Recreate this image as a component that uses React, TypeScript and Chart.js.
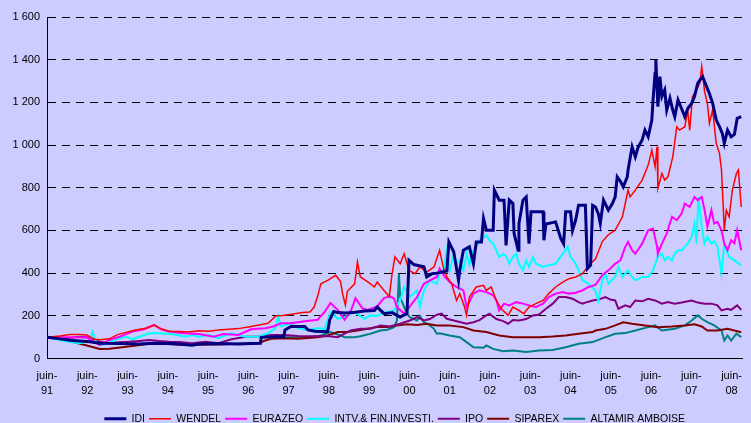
import React, { useEffect, useRef } from "react";
import { Chart, registerables } from "chart.js";

Chart.register(...registerables);

const SERIES_NAMES = ["IDI", "WENDEL", "EURAZEO", "INTV.& FIN.INVESTI.", "IPO", "SIPAREX", "ALTAMIR AMBOISE"];
const SERIES_COLORS = ["#000080", "#FF0000", "#FF00FF", "#00FFFF", "#800080", "#800000", "#008080"];
const SERIES_WIDTHS = [3, 1.5, 2, 2, 2, 2, 2];

const TICK_YEARS = ["91", "92", "93", "94", "95", "96", "97", "98", "99", "00", "01", "02", "03", "04", "05", "06", "07", "08"];
const FIRST_JUNE = 1991.42;
const X_MIN = 1991.42;
const X_MAX = 2008.69;
const Y_TICKS_MAX = 1600;
const Y_STEP = 200;

const IDI: [number, number][] = [[1991.42,100],[1991.74,92],[1991.99,85],[1992.48,78],[1992.73,72],[1993.22,70],[1993.71,68],[1994.08,72],[1994.52,70],[1994.82,66],[1995.02,62],[1995.19,68],[1995.68,70],[1996.17,68],[1996.49,70],[1996.72,71],[1996.74,99],[1997.11,102],[1997.30,102],[1997.33,134],[1997.48,150],[1997.82,150],[1997.90,134],[1998.07,128],[1998.39,126],[1998.44,181],[1998.54,220],[1998.64,215],[1998.83,213],[1999.08,217],[1999.30,222],[1999.55,225],[1999.62,241],[1999.79,210],[1999.99,215],[2000.19,194],[2000.36,210],[2000.41,460],[2000.53,440],[2000.78,430],[2000.85,382],[2000.98,397],[2001.10,400],[2001.35,410],[2001.40,546],[2001.52,500],[2001.64,366],[2001.67,413],[2001.76,507],[2001.91,523],[2002.01,444],[2002.08,546],[2002.21,546],[2002.26,656],[2002.33,601],[2002.50,601],[2002.53,789],[2002.65,742],[2002.77,742],[2002.82,530],[2002.90,742],[2002.99,726],[2003.02,585],[2003.12,507],[2003.14,632],[2003.24,742],[2003.32,757],[2003.39,538],[2003.44,687],[2003.74,687],[2003.76,554],[2003.81,630],[2004.05,640],[2004.18,562],[2004.25,538],[2004.30,687],[2004.42,687],[2004.47,600],[2004.55,650],[2004.62,718],[2004.79,718],[2004.84,421],[2004.92,437],[2004.97,718],[2005.04,710],[2005.11,679],[2005.16,632],[2005.24,742],[2005.36,695],[2005.46,726],[2005.53,757],[2005.58,851],[2005.66,830],[2005.73,804],[2005.83,851],[2005.85,883],[2005.95,992],[2006.03,945],[2006.10,990],[2006.20,1024],[2006.27,1070],[2006.35,1039],[2006.44,1117],[2006.47,1211],[2006.52,1336],[2006.54,1399],[2006.59,1180],[2006.64,1321],[2006.69,1227],[2006.76,1258],[2006.81,1164],[2006.89,1220],[2006.96,1164],[2007.01,1133],[2007.09,1211],[2007.18,1170],[2007.26,1133],[2007.33,1170],[2007.43,1196],[2007.50,1227],[2007.58,1290],[2007.70,1321],[2007.80,1274],[2007.87,1242],[2007.95,1196],[2008.04,1117],[2008.12,1086],[2008.19,1055],[2008.24,1008],[2008.32,1070],[2008.41,1039],[2008.49,1050],[2008.56,1125],[2008.66,1133]];

const WENDEL: [number, number][] = [[1991.42,100],[1991.74,105],[1991.99,112],[1992.23,113],[1992.41,110],[1992.60,90],[1992.73,88],[1992.97,92],[1993.17,112],[1993.34,120],[1993.59,132],[1993.88,142],[1994.08,157],[1994.25,140],[1994.45,128],[1994.70,126],[1994.94,124],[1995.19,130],[1995.43,128],[1995.68,134],[1995.93,137],[1996.17,140],[1996.49,150],[1996.72,158],[1996.91,165],[1997.11,200],[1997.28,202],[1997.53,208],[1997.77,215],[1997.95,218],[1998.05,240],[1998.14,290],[1998.22,350],[1998.39,366],[1998.59,390],[1998.71,360],[1998.76,304],[1998.83,250],[1998.88,315],[1999.06,350],[1999.13,452],[1999.20,382],[1999.38,360],[1999.55,335],[1999.62,358],[1999.79,319],[1999.92,290],[1999.99,397],[2000.06,476],[2000.19,444],[2000.29,491],[2000.41,413],[2000.56,397],[2000.68,429],[2000.85,405],[2001.03,429],[2001.17,507],[2001.27,420],[2001.35,382],[2001.47,350],[2001.59,272],[2001.67,304],[2001.79,241],[2001.84,202],[2001.91,288],[2002.08,335],[2002.26,343],[2002.33,319],[2002.45,335],[2002.58,272],[2002.70,233],[2002.87,202],[2002.99,241],[2003.14,225],[2003.26,210],[2003.39,241],[2003.56,257],[2003.74,272],[2003.88,304],[2004.05,335],[2004.23,358],[2004.38,374],[2004.55,382],[2004.72,397],[2004.87,437],[2005.04,466],[2005.21,548],[2005.36,580],[2005.53,601],[2005.71,664],[2005.85,789],[2005.90,757],[2006.03,789],[2006.20,836],[2006.35,906],[2006.44,977],[2006.52,898],[2006.57,992],[2006.59,797],[2006.69,867],[2006.76,836],[2006.84,851],[2006.96,945],[2007.06,1086],[2007.13,1070],[2007.26,1086],[2007.33,1164],[2007.38,1070],[2007.45,1227],[2007.55,1258],[2007.63,1290],[2007.68,1368],[2007.75,1250],[2007.82,1196],[2007.87,1102],[2007.95,1164],[2008.04,1008],[2008.12,961],[2008.17,883],[2008.24,601],[2008.29,695],[2008.36,664],[2008.44,789],[2008.54,867],[2008.59,883],[2008.66,710]];

const EURAZEO: [number, number][] = [[1991.42,100],[1991.91,100],[1992.41,98],[1992.73,63],[1992.97,87],[1993.22,102],[1993.54,126],[1993.83,137],[1994.08,157],[1994.25,137],[1994.45,126],[1994.82,118],[1995.19,115],[1995.56,102],[1995.80,115],[1996.17,110],[1996.49,137],[1996.84,142],[1997.04,150],[1997.23,165],[1997.48,165],[1997.77,173],[1998.14,181],[1998.32,220],[1998.46,260],[1998.64,228],[1998.81,181],[1998.96,220],[1999.08,283],[1999.25,236],[1999.38,228],[1999.62,244],[1999.79,283],[1999.94,291],[2000.04,280],[2000.11,241],[2000.29,210],[2000.61,288],[2000.78,350],[2000.93,366],[2001.10,382],[2001.17,421],[2001.30,382],[2001.42,358],[2001.59,335],[2001.76,319],[2001.84,241],[2001.91,264],[2002.01,304],[2002.16,319],[2002.33,311],[2002.50,296],[2002.58,272],[2002.65,225],[2002.77,257],[2002.90,249],[2003.07,264],[2003.24,257],[2003.39,249],[2003.56,241],[2003.74,257],[2003.88,288],[2004.05,304],[2004.23,311],[2004.38,304],[2004.55,308],[2004.72,319],[2004.87,335],[2005.04,345],[2005.21,390],[2005.36,413],[2005.53,444],[2005.66,460],[2005.78,523],[2005.85,546],[2005.95,507],[2006.03,491],[2006.20,538],[2006.35,601],[2006.47,609],[2006.57,523],[2006.59,491],[2006.69,538],[2006.81,585],[2006.94,664],[2007.06,648],[2007.18,679],[2007.26,726],[2007.38,710],[2007.50,757],[2007.58,742],[2007.68,757],[2007.75,695],[2007.82,617],[2007.92,695],[2007.99,632],[2008.07,640],[2008.17,601],[2008.24,538],[2008.32,507],[2008.41,554],[2008.49,540],[2008.56,601],[2008.66,507]];

const INTV: [number, number][] = [[1991.42,100],[1991.91,79],[1992.23,71],[1992.48,80],[1992.55,126],[1992.65,75],[1992.80,63],[1992.97,74],[1993.22,95],[1993.39,102],[1993.54,90],[1993.71,102],[1993.96,118],[1994.20,118],[1994.52,115],[1994.87,102],[1995.02,110],[1995.19,102],[1995.43,110],[1995.68,95],[1995.99,118],[1996.35,102],[1996.67,102],[1996.91,118],[1997.09,142],[1997.16,197],[1997.23,150],[1997.48,165],[1997.65,142],[1997.90,134],[1998.14,142],[1998.32,139],[1998.46,217],[1998.64,186],[1998.81,194],[1999.06,217],[1999.30,186],[1999.45,202],[1999.62,200],[1999.79,215],[2000.04,225],[2000.11,249],[2000.19,272],[2000.29,335],[2000.43,288],[2000.61,319],[2000.68,241],[2000.78,319],[2000.93,366],[2001.10,350],[2001.17,397],[2001.27,413],[2001.35,507],[2001.42,413],[2001.52,491],[2001.59,444],[2001.67,460],[2001.76,413],[2001.84,491],[2001.91,440],[2002.01,507],[2002.08,523],[2002.16,554],[2002.33,577],[2002.41,554],[2002.50,538],[2002.58,507],[2002.65,476],[2002.75,490],[2002.82,480],[2002.90,444],[2002.99,476],[2003.07,490],[2003.14,444],[2003.24,413],[2003.32,460],[2003.39,429],[2003.49,476],[2003.56,444],[2003.74,429],[2003.88,437],[2004.05,444],[2004.23,491],[2004.35,523],[2004.42,476],[2004.55,444],[2004.62,413],[2004.72,366],[2004.87,350],[2005.04,319],[2005.11,272],[2005.21,366],[2005.29,397],[2005.36,350],[2005.53,382],[2005.61,429],[2005.71,382],[2005.85,413],[2005.95,382],[2006.03,366],[2006.20,382],[2006.35,382],[2006.47,413],[2006.59,476],[2006.69,491],[2006.76,460],[2006.84,476],[2006.94,460],[2007.01,491],[2007.09,507],[2007.18,507],[2007.26,523],[2007.33,538],[2007.43,570],[2007.50,632],[2007.55,538],[2007.60,757],[2007.68,617],[2007.75,538],[2007.82,570],[2007.92,538],[2007.99,550],[2008.07,523],[2008.17,397],[2008.24,538],[2008.29,510],[2008.36,476],[2008.49,460],[2008.66,437]];

const IPO: [number, number][] = [[1991.42,100],[1991.91,95],[1992.23,102],[1992.48,98],[1992.73,79],[1992.97,71],[1993.22,76],[1993.46,78],[1993.71,82],[1993.96,87],[1994.20,82],[1994.45,78],[1994.70,77],[1995.02,71],[1995.36,79],[1995.68,72],[1996.00,90],[1996.35,102],[1996.67,103],[1996.99,110],[1997.33,110],[1997.65,105],[1997.97,104],[1998.39,105],[1998.64,100],[1998.96,131],[1999.20,139],[1999.45,139],[1999.70,155],[1999.94,150],[2000.19,163],[2000.43,178],[2000.61,194],[2000.78,178],[2000.93,185],[2001.10,205],[2001.22,210],[2001.35,186],[2001.52,178],[2001.67,171],[2001.84,163],[2002.01,170],[2002.16,180],[2002.33,202],[2002.41,210],[2002.50,196],[2002.58,185],[2002.75,175],[2002.87,163],[2002.99,180],[2003.14,178],[2003.32,185],[2003.49,202],[2003.64,206],[2003.81,233],[2003.98,257],[2004.13,288],[2004.30,288],[2004.47,280],[2004.62,264],[2004.72,257],[2004.79,262],[2004.97,272],[2005.11,276],[2005.29,288],[2005.41,276],[2005.53,272],[2005.61,233],[2005.78,249],[2005.90,241],[2006.03,272],[2006.20,268],[2006.35,280],[2006.52,272],[2006.69,257],[2006.84,265],[2007.01,257],[2007.18,262],[2007.43,272],[2007.58,262],[2007.75,257],[2007.92,257],[2008.07,249],[2008.17,225],[2008.32,233],[2008.41,228],[2008.56,249],[2008.66,228]];

const SIPAREX: [number, number][] = [[1991.42,100],[1991.91,85],[1992.06,77],[1992.41,61],[1992.73,45],[1992.97,46],[1993.29,53],[1993.64,61],[1993.96,69],[1994.28,69],[1994.70,64],[1995.19,65],[1995.68,66],[1996.17,69],[1996.67,72],[1996.84,84],[1996.99,92],[1997.33,95],[1997.65,92],[1998.14,100],[1998.39,108],[1998.64,124],[1998.88,124],[1999.13,131],[1999.38,139],[1999.62,147],[1999.87,147],[2000.11,155],[2000.36,160],[2000.61,157],[2000.85,163],[2001.10,155],[2001.42,155],[2001.76,147],[2002.01,131],[2002.33,124],[2002.65,108],[2002.99,100],[2003.32,100],[2003.64,100],[2003.98,103],[2004.30,108],[2004.62,116],[2004.97,124],[2005.04,131],[2005.29,139],[2005.53,155],[2005.73,170],[2005.95,163],[2006.27,155],[2006.59,147],[2006.94,150],[2007.26,155],[2007.50,160],[2007.68,150],[2007.82,131],[2008.07,131],[2008.32,139],[2008.49,131],[2008.66,123]];

const ALTAMIR: [number, number][] = [[1996.91,100],[1997.16,100],[1997.65,100],[1997.97,100],[1998.22,108],[1998.46,124],[1998.71,108],[1998.81,100],[1999.06,100],[1999.20,104],[1999.45,116],[1999.70,131],[1999.87,135],[2000.04,147],[2000.11,178],[2000.16,397],[2000.19,288],[2000.29,241],[2000.36,210],[2000.43,194],[2000.61,178],[2000.68,200],[2000.78,170],[2000.93,155],[2001.03,139],[2001.10,116],[2001.17,118],[2001.42,108],[2001.67,100],[2001.84,77],[2002.01,53],[2002.26,50],[2002.33,61],[2002.50,45],[2002.75,34],[2002.99,38],[2003.32,30],[2003.64,38],[2003.98,40],[2004.30,53],[2004.62,69],[2004.97,77],[2005.29,100],[2005.53,116],[2005.78,119],[2006.03,131],[2006.35,147],[2006.52,155],[2006.69,131],[2007.01,139],[2007.26,155],[2007.43,178],[2007.58,202],[2007.68,186],[2007.82,170],[2007.99,155],[2008.17,131],[2008.24,84],[2008.32,108],[2008.41,84],[2008.54,116],[2008.66,100]];

const SERIES_DATA = [IDI, WENDEL, EURAZEO, INTV, IPO, SIPAREX, ALTAMIR];

const BG = "#CCCCFF";
const FONT = "'Liberation Sans', Arial, sans-serif";

function fmtThousands(v: number): string {
  return String(v).replace(/\B(?=(\d{3})+(?!\d))/g, " ");
}

export default function App() {
  const ref = useRef<HTMLCanvasElement | null>(null);

  useEffect(() => {
    document.body.style.margin = "0";
    document.body.style.background = BG;
    const canvas = ref.current;
    if (!canvas) return;
    const chart = new Chart(canvas, {
      type: "line",
      data: {
        datasets: SERIES_NAMES.map((name, i) => ({
          label: name,
          data: SERIES_DATA[i].map(([x, y]) => ({ x, y })),
          borderColor: SERIES_COLORS[i],
          backgroundColor: SERIES_COLORS[i],
          borderWidth: SERIES_WIDTHS[i],
          pointRadius: 0,
          pointHoverRadius: 0,
          tension: 0,
          fill: false,
        })),
      },
      options: {
        animation: false,
        responsive: false,
        devicePixelRatio: 1,
        events: [],
        layout: { padding: { top: 17, right: 3, left: 0, bottom: -11 } },
        plugins: {
          tooltip: { enabled: false },
          legend: {
            position: "bottom",
            fullSize: false,
            labels: {
              usePointStyle: true,
              pointStyle: "line",
              pointStyleWidth: 22,
              boxWidth: 22,
              padding: 4,
              color: "#000",
              font: { family: FONT, size: 10.5 },
            },
          },
        },
        scales: {
          x: {
            type: "linear",
            min: X_MIN,
            max: X_MAX,
            afterBuildTicks: (scale: any) => {
              scale.ticks = TICK_YEARS.map((_, i) => ({ value: FIRST_JUNE + i }));
            },
            afterFit: (scale: any) => {
              scale.height = 51;
            },
            grid: { display: false, drawTicks: false },
            border: { display: true, color: "#000", width: 1 },
            ticks: {
              autoSkip: false,
              maxRotation: 0,
              minRotation: 0,
              padding: 9,
              color: "#000",
              font: { family: FONT, size: 11, lineHeight: 1.45 },
              callback: (_v: any, i: number) => ["juin-", TICK_YEARS[i]],
            },
          },
          y: {
            min: 0,
            max: Y_TICKS_MAX,
            afterFit: (scale: any) => {
              scale.width = 47;
            },
            grid: { color: "#000", lineWidth: 1, drawTicks: false },
            border: { display: true, color: "#000", width: 1, dash: [8, 6] },
            ticks: {
              stepSize: Y_STEP,
              padding: 7,
              color: "#000",
              font: { family: FONT, size: 11 },
              callback: (v: any) => fmtThousands(Number(v)),
            },
          },
        },
      },
    });
    return () => chart.destroy();
  }, []);

  return (
    <div style={{ width: 751, height: 423, background: BG }}>
      <canvas ref={ref} width={751} height={423} style={{ display: "block" }} />
    </div>
  );
}
